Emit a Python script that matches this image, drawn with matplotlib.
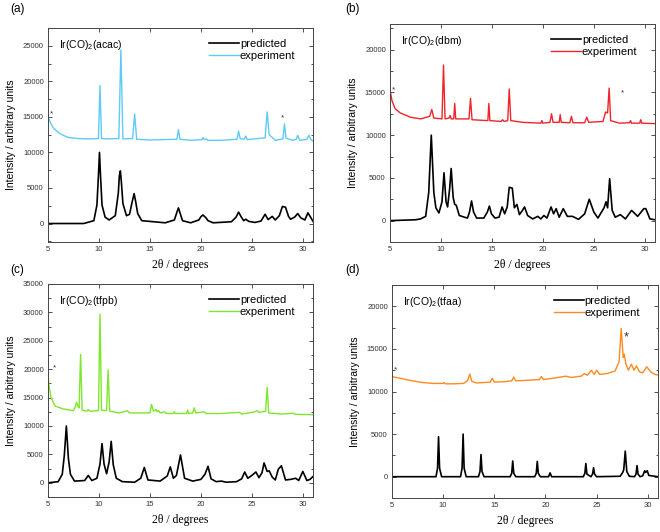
import matplotlib
matplotlib.use("Agg")
import matplotlib.pyplot as plt
from matplotlib.ticker import MultipleLocator, AutoMinorLocator

plt.rcParams['font.family'] = ['Liberation Sans', 'DejaVu Sans']
plt.rcParams['mathtext.fontset'] = 'custom'
plt.rcParams['mathtext.rm'] = 'Liberation Sans'
plt.rcParams['mathtext.it'] = 'Liberation Sans:italic'

# (a) Ir(CO)2(acac)
a_pred_x = [5.0, 8.5, 9.5, 9.8, 9.95, 10.05, 10.15, 10.3, 10.6, 11.0, 11.6, 11.9, 12.0, 12.1, 12.2, 12.35,
            12.7, 13.0, 13.25, 13.45, 13.6, 13.8, 14.2, 16.5, 17.4, 17.65, 17.8, 17.95, 18.2, 19.0, 19.8,
            20.0, 20.2, 20.5, 20.7, 21.2, 23.0, 23.45, 23.7, 23.95, 24.2, 24.4, 24.7, 25.3, 25.9, 26.3,
            26.6, 27.0, 27.3, 27.7, 28.0, 28.3, 28.6, 28.8, 29.2, 29.5, 29.8, 30.2, 30.5, 30.8, 31.0]
a_pred_y = [0, 0, 400, 2600, 6800, 10000, 6800, 2600, 900, 500, 1100, 4300, 6700, 7400, 5800, 2800,
            1100, 1300, 3000, 4200, 3100, 1400, 400, 100, 500, 1600, 2200, 1500, 400, 100, 500,
            950, 1200, 800, 400, 100, 250, 900, 1600, 950, 400, 600, 300, 150, 350, 1300,
            550, 1000, 500, 1100, 2400, 2300, 1000, 600, 900, 1400, 800, 500, 1500, 800, 300]
a_exp_x = [5.0, 5.2, 5.5, 6.0, 6.5, 7.0, 8.0, 9.0, 9.95, 10.1, 10.25, 11.0, 11.95, 12.15, 12.35, 13.3,
           13.5, 13.7, 15.0, 17.65, 17.8, 17.95, 19.0, 20.1, 20.2, 20.35, 20.5, 20.7, 22.0, 23.55, 23.7,
           23.85, 24.25, 24.4, 24.55, 26.3, 26.5, 26.7, 27.0, 27.3, 28.05, 28.2, 28.35, 29.0, 29.35,
           29.5, 29.7, 30.4, 30.6, 30.8, 31.0]
a_exp_y = [15000, 14300, 13500, 12800, 12400, 12100, 11950, 11900, 11950, 19400, 11950, 11900, 11950,
           24400, 11900, 11950, 15400, 11850, 11750, 11850, 13200, 11850, 11700, 11800, 12100, 11800,
           11900, 11700, 11700, 11850, 13000, 11950, 11850, 12300, 11800, 12050, 15700, 12500, 12100,
           11700, 11900, 14000, 12000, 11700, 11850, 12400, 11700, 11850, 12400, 11800, 11600]

# (b) Ir(CO)2(dbm)
b_pred_x = [5.0, 7.5, 8.0, 8.5, 8.8, 9.05, 9.3, 9.5, 9.8, 10.1, 10.3, 10.5, 10.65, 10.85, 11.0, 11.2,
            11.35, 11.5, 11.8, 12.3, 12.6, 12.8, 13.0, 13.2, 13.5, 14.2, 14.55, 14.75, 14.95, 15.3,
            15.7, 16.0, 16.25, 16.5, 16.7, 17.0, 17.2, 17.45, 17.7, 18.0, 18.2, 18.5, 19.0, 19.5,
            19.8, 20.1, 20.4, 20.8, 21.05, 21.3, 21.6, 22.0, 22.4, 22.9, 23.5, 24.1, 24.55, 25.0,
            25.4, 26.0, 26.2, 26.35, 26.55, 26.8, 27.1, 27.6, 28.1, 28.7, 29.3, 29.9, 30.1, 30.5, 31.0]
b_pred_y = [0, 100, 200, 500, 3300, 10000, 3300, 1500, 900, 2200, 5600, 2200, 1600, 3700, 6100, 2700,
            1900, 1800, 600, 400, 300, 1000, 2300, 1000, 300, 300, 1000, 1700, 800, 300,
            400, 1600, 800, 1600, 3900, 3800, 1500, 1900, 700, 1200, 1600, 600, 200, 500,
            200, 600, 300, 1600, 800, 1400, 400, 1400, 500, 500, 150, 800, 2500, 1000,
            300, 1500, 2200, 1500, 4900, 1200, 400, 700, 200, 1200, 500, 1400, 1400, 200, 100]
b_exp_x = [5.0, 5.2, 5.5, 6.0, 7.0, 8.0, 8.9, 9.1, 9.3, 10.1, 10.25, 10.4, 10.8, 10.9, 11.0, 11.25,
           11.35, 11.45, 12.75, 12.9, 13.05, 14.6, 14.7, 14.8, 15.9, 16.05, 16.2, 16.55, 16.7, 16.85,
           18.0, 19.8, 19.9, 20.0, 20.7, 20.85, 21.0, 21.6, 21.7, 21.8, 22.65, 22.8, 22.95, 24.1,
           24.3, 24.5, 25.9, 26.15, 26.35, 26.5, 26.65, 27.5, 28.5, 28.6, 28.7, 29.5, 29.6, 29.7, 31.0]
b_exp_y = [15300, 14000, 13100, 12600, 12100, 11900, 12200, 13000, 12000, 11900, 18200, 11900, 12000,
           12300, 11900, 11900, 13700, 11900, 11900, 14300, 11800, 11700, 13700, 11700, 11600, 11800,
           11600, 11700, 15400, 11700, 11500, 11400, 11700, 11400, 11500, 12500, 11500, 11500, 12400,
           11500, 11450, 12200, 11450, 11450, 12100, 11500, 11600, 12700, 12600, 15500, 11700, 11400,
           11450, 11700, 11400, 11400, 11800, 11400, 11350]

# (c) Ir(CO)2(tfpb)
c_pred_x = [5.0, 6.0, 6.4, 6.6, 6.8, 7.0, 7.2, 7.6, 8.6, 8.95, 9.3, 9.8, 10.1, 10.3, 10.5, 10.75, 11.0,
            11.2, 11.4, 11.7, 12.3, 13.5, 14.1, 14.45, 14.8, 16.0, 16.7, 17.0, 17.3, 17.6, 18.0, 18.4,
            19.2, 20.0, 20.4, 20.7, 21.0, 21.5, 22.0, 22.5, 23.5, 24.0, 24.3, 24.6, 25.0, 25.4, 25.7,
            26.0, 26.2, 26.5, 26.7, 27.0, 27.3, 27.6, 27.9, 28.3, 28.8, 29.3, 29.6, 30.0, 30.4, 30.7, 31.0]
c_pred_y = [0, 200, 1500, 4800, 10000, 4300, 1500, 300, 400, 1300, 400, 800, 3300, 6900, 3300, 1600, 3700,
            7300, 3200, 800, 200, 100, 800, 2700, 500, 300, 1200, 2800, 800, 1300, 4900, 800,
            300, 600, 1500, 2900, 700, 200, 300, 100, 200, 700, 1900, 800, 1300, 1900, 900,
            1800, 3500, 2000, 2100, 1000, 500, 2400, 3000, 500, 600, 800, 400, 2000, 400, 600, 1100]
c_exp_x = [5.0, 5.1, 5.3, 5.7, 6.5, 7.5, 7.7, 7.8, 7.95, 8.05, 8.2, 8.35, 8.8, 8.95, 9.1, 9.95, 10.1,
           10.25, 10.75, 10.9, 11.05, 12.0, 12.8, 13.0, 15.0, 15.15, 15.35, 15.6, 15.7, 15.85, 16.0,
           16.45, 16.6, 17.3, 17.4, 17.5, 18.6, 18.7, 18.8, 19.2, 19.35, 19.5, 20.3, 20.5, 22.0, 23.8,
           24.0, 25.3, 25.5, 25.7, 26.35, 26.5, 26.65, 28.0, 29.0, 29.3, 31.0]
c_exp_y = [19400, 17000, 15000, 13500, 13000, 12700, 13500, 14200, 13400, 13200, 22600, 12800, 12600,
           12900, 12600, 12700, 29700, 12800, 12700, 19900, 12600, 12300, 12700, 12300, 12300, 13800,
           12600, 12900, 12500, 12700, 12300, 12500, 12200, 12200, 12500, 12200, 12200, 12800, 12200,
           12300, 13200, 12300, 12500, 12200, 12200, 12400, 12100, 12500, 12700, 12400, 12600, 16800,
           12300, 12100, 12250, 12050, 12000]

# (d) Ir(CO)2(tfaa)
d_pred_x = [5.0, 9.3, 9.45, 9.55, 9.65, 9.85, 11.7, 11.85, 11.95, 12.05, 12.25, 13.45, 13.6, 13.7, 13.8,
            14.0, 16.55, 16.7, 16.8, 16.9, 17.1, 18.95, 19.1, 19.2, 19.3, 19.5, 20.3, 20.45, 20.6, 23.7,
            23.85, 23.95, 24.05, 24.45, 24.6, 24.7, 24.8, 25.0, 27.3, 27.55, 27.65, 27.8, 27.95, 28.2,
            28.7, 28.85, 28.95, 29.05, 29.25, 29.5, 29.7, 29.8, 29.95, 30.1, 31.0]
d_pred_y = [0, 0, 1000, 4700, 1000, 0, 0, 1000, 5000, 1000, 0, 0, 600, 2600, 600,
            0, 0, 400, 1850, 400, 0, 0, 400, 1800, 400, 0, 0, 450, 0, 0,
            400, 1550, 300, 0, 300, 1050, 300, 0, 50, 500, 800, 3000, 600, 50,
            0, 300, 1300, 300, 0, 100, 700, 500, 700, 150, 0]
d_exp_x = [5.0, 6.0, 7.0, 8.0, 9.0, 10.0, 10.1, 10.2, 11.0, 12.0, 12.4, 12.6, 12.8, 13.2, 14.6, 14.8,
           15.0, 16.0, 16.7, 16.9, 17.1, 18.0, 19.4, 19.6, 19.8, 21.0, 22.0, 22.5, 23.5, 23.8, 24.1,
           24.5, 24.75, 25.0, 25.3, 26.0, 26.8, 27.2, 27.4, 27.6, 27.7, 27.85, 28.1, 28.4, 28.65,
           28.9, 29.2, 29.5, 29.9, 30.3, 30.7, 31.0]
d_exp_y = [11750, 11500, 11250, 11050, 10950, 10950, 11050, 10900, 10900, 10950, 11300, 12050, 11200,
           11000, 11100, 11550, 11100, 11150, 11250, 11700, 11250, 11300, 11400, 11750, 11400, 11600,
           11800, 11650, 11800, 12100, 11900, 12500, 12000, 12500, 12000, 12100, 12400, 13500, 17400,
           14000, 14400, 13300, 12500, 13200, 12500, 13000, 12300, 12200, 12900, 12300, 12000, 11950]

titles = ['Ir(CO)$_2$(acac)', 'Ir(CO)$_2$(dbm)', 'Ir(CO)$_2$(tfpb)', 'Ir(CO)$_2$(tfaa)']
letters = ['(a)', '(b)', '(c)', '(d)']
exp_colors = ['#5fcaf6', '#f0242a', '#7ee62c', '#ff8a1f']
ylims = [(-2600, 27500), (-2500, 23000), (-2500, 35000), (-2500, 22500)]
# asterisk marks: (x, y, size)
stars = [[(5.3, 15400, 6), (28.05, 14900, 6)],
         [(5.3, 15300, 6), (27.85, 14900, 6)],
         [(5.6, 20300, 6)],
         [(5.35, 12500, 6), (27.9, 16400, 9)]]

# axes rectangles in pixels: left, top, right, bottom
W, H = 660, 532
rects_px = [(48, 28, 313, 242), (390, 24, 655, 242), (48, 284, 313, 497), (392, 285, 658, 498)]
letter_px = [(10, 9), (345, 9), (10, 270), (345, 270)]

fig = plt.figure(figsize=(6.6, 5.32), dpi=100)
data = [(a_pred_x, a_pred_y, a_exp_x, a_exp_y),
        (b_pred_x, b_pred_y, b_exp_x, b_exp_y),
        (c_pred_x, c_pred_y, c_exp_x, c_exp_y),
        (d_pred_x, d_pred_y, d_exp_x, d_exp_y)]

for i, (px, py, ex, ey) in enumerate(data):
    l, t, r, b = rects_px[i]
    ax = fig.add_axes([l / W, (H - b) / H, (r - l) / W, (b - t) / H])
    ax.plot(px, py, color='black', lw=1.2, label='predicted')
    ax.plot(ex, ey, color=exp_colors[i], lw=1.0, label='experiment')
    ax.set_xlim(5, 31)
    ax.set_ylim(*ylims[i])
    ax.xaxis.set_major_locator(MultipleLocator(5))
    ax.yaxis.set_major_locator(MultipleLocator(5000))
    ax.yaxis.set_minor_locator(AutoMinorLocator(2))
    ax.tick_params(which='both', direction='in', top=True, right=True, labelsize=5.5,
                   width=0.6, colors='#333333', pad=3)
    ax.tick_params(which='major', length=3)
    ax.tick_params(which='minor', length=1.8)
    for s in ax.spines.values():
        s.set_linewidth(0.7)
        s.set_color('#444444')
    ax.set_ylabel('Intensity / arbitrary units', fontsize=7.5, labelpad=5)
    ax.set_xlabel('2θ / degrees', fontsize=8.5, family=['Liberation Serif', 'DejaVu Serif'], labelpad=4)
    ax.text(0.04, 0.955, titles[i], transform=ax.transAxes, fontsize=7.5, va='top', ha='left')
    for sx, sy, ss in stars[i]:
        ax.text(sx, sy, '*', fontsize=ss, ha='center', va='center', color='#333333')
    ax.legend(loc='upper right', bbox_to_anchor=(0.95, 0.97), frameon=False, fontsize=8,
              handlelength=2.7, handletextpad=0.1, labelspacing=0.2, borderaxespad=0)
    lx, ly = letter_px[i]
    fig.text(lx / W, 1 - ly / H, letters[i], fontsize=8.5, va='center', ha='left')

fig.savefig('out.png', dpi=100)
